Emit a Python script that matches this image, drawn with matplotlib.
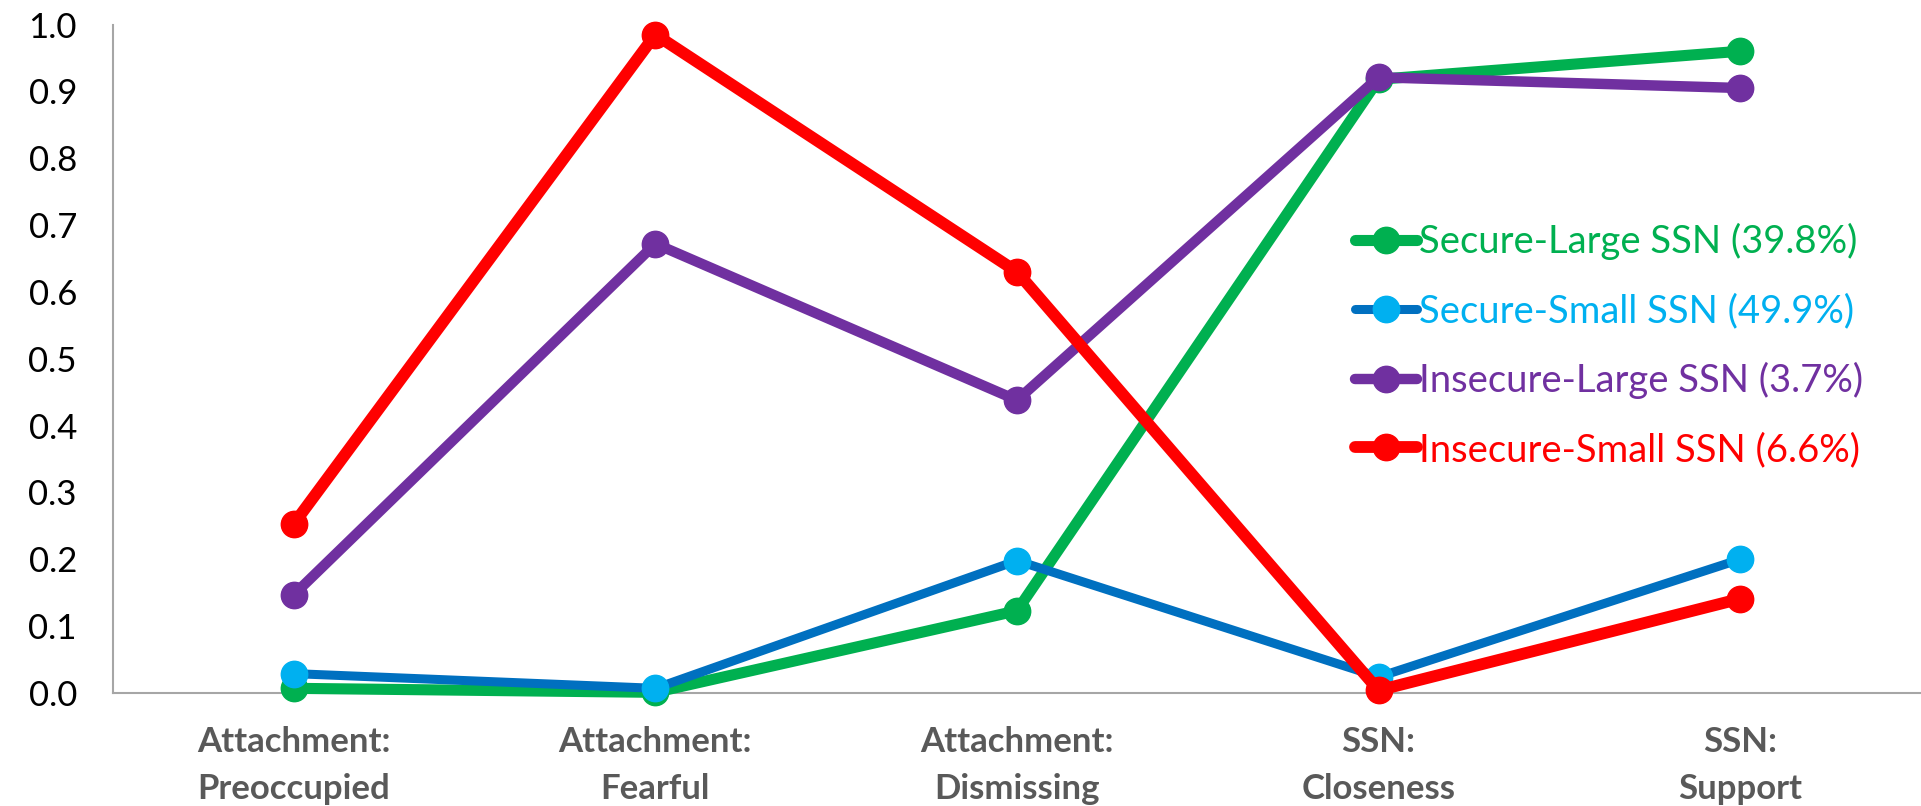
import matplotlib
matplotlib.use("Agg")
import matplotlib.pyplot as plt

plt.rcParams['font.family'] = ['Lato', 'DejaVu Sans']

categories = ["Attachment:\nPreoccupied", "Attachment:\nFearful", "Attachment:\nDismissing",
              "SSN:\nCloseness", "SSN:\nSupport"]
secure_large = [0.007, 0.001, 0.123, 0.918, 0.960]
secure_small = [0.029, 0.007, 0.198, 0.024, 0.200]
insecure_large = [0.147, 0.672, 0.438, 0.921, 0.905]
insecure_small = [0.253, 0.985, 0.630, 0.004, 0.141]
labels = ["Secure-Large SSN (39.8%)", "Secure-Small SSN (49.9%)",
          "Insecure-Large SSN (3.7%)", "Insecure-Small SSN (6.6%)"]
yticks = [0.0, 0.1, 0.2, 0.3, 0.4, 0.5, 0.6, 0.7, 0.8, 0.9, 1.0]

# values, line colour, marker colour, legend text colour, line width
series = [
    (secure_large, '#00B050', '#00B050', '#00B050', 8.0),
    (secure_small, '#0070C0', '#00B0F0', '#00B0F0', 6.5),
    (insecure_large, '#7030A0', '#7030A0', '#7030A0', 7.5),
    (insecure_small, '#FF0000', '#FF0000', '#FF0000', 8.5),
]

fig = plt.figure(figsize=(19.21, 8.06), dpi=100)
ax = fig.add_axes([113 / 1921, 113 / 806, 1 - 113 / 1921, (693 - 24.5) / 806])

x = list(range(len(categories)))
for i, (vals, lc, mc, tc, lw) in enumerate(series):
    ax.plot(x, vals, color=lc, lw=lw, marker='o', markersize=19,
            markerfacecolor=mc, markeredgecolor=mc, label=labels[i],
            zorder=3 + i, clip_on=False, solid_capstyle='round')

ax.set_xlim(-0.5, len(categories) - 0.5)
ax.set_ylim(0, 1.0)
ax.set_yticks(yticks)
ax.set_yticklabels([f"{v:.1f}" for v in yticks], fontsize=25, color='black')
ax.set_xticks(x)
ax.set_xticklabels(categories, fontsize=25, fontweight='bold', color='#595959',
                   linespacing=1.55)
ax.tick_params(axis='both', length=0)
ax.tick_params(axis='y', pad=26)
ax.tick_params(axis='x', pad=24)

for s in ['top', 'right']:
    ax.spines[s].set_visible(False)
for s in ['left', 'bottom']:
    ax.spines[s].set_color('#A6A6A6')
    ax.spines[s].set_linewidth(1.5)

leg = ax.legend(loc='upper left', bbox_to_anchor=(1355 / 1921, 1 - 223 / 806),
                bbox_transform=fig.transFigure, frameon=False, fontsize=27.5,
                handlelength=1.62, handletextpad=0.05, labelspacing=0.86,
                borderpad=0, borderaxespad=0)
for txt, s in zip(leg.get_texts(), series):
    txt.set_color(s[3])

fig.savefig("out.png", dpi=100)
